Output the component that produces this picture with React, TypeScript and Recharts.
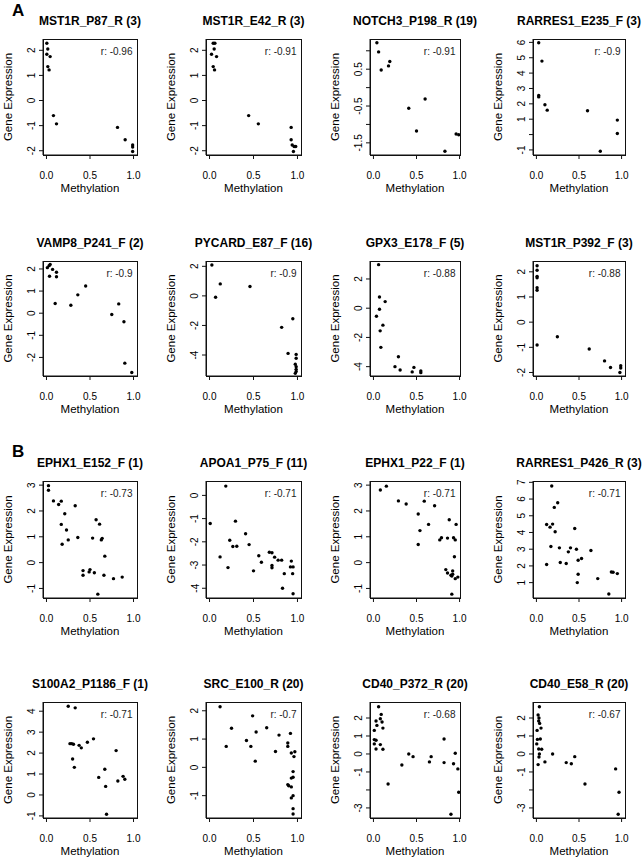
import React from "react";
import { ScatterChart, Scatter, XAxis, YAxis, Label } from "recharts";

const FONT = '"Liberation Sans", Arial, Helvetica, sans-serif';

// ---- data (methylation, gene expression) ----
const mst1rP87 = [[0.004, 2.28], [0.015, 2.05], [0.004, 1.84], [0.042, 1.75], [0.015, 1.35], [0.03, 1.22], [0.08, -0.6], [0.115, -0.93], [0.816, -1.07], [0.904, -1.56], [0.99, -1.77], [0.99, -1.85], [0.99, -2.03]];
const mst1rE42 = [[0.042, 2.28], [0.061, 2.28], [0.053, 2.05], [0.023, 1.84], [0.08, 1.75], [0.042, 1.35], [0.057, 1.22], [0.445, -0.6], [0.555, -0.93], [0.928, -1.07], [0.928, -1.56], [0.94, -1.77], [0.962, -1.83], [0.98, -1.83], [0.954, -2.03]];
const notch3P198 = [[0.04, 1.22], [0.06, 0.97], [0.09, 0.48], [0.175, 0.59], [0.19, 0.71], [0.41, -0.56], [0.6, -0.31], [0.5, -1.18], [0.83, -1.73], [0.96, -1.26], [0.99, -1.28]];
const rarres1E235 = [[0.027, 5.98], [0.065, 4.78], [0.027, 2.55], [0.027, 2.45], [0.1, 1.94], [0.127, 1.59], [0.6, 1.55], [0.95, 0.94], [0.95, 0.07], [0.75, -1.09]];
const vamp8P241 = [[0.01, 2.06], [0.03, 2.15], [0.042, 2.2], [0.07, 1.98], [0.035, 1.67], [0.115, 1.85], [0.115, 1.65], [0.1, 0.44], [0.28, 0.36], [0.36, 0.83], [0.45, 1.23], [0.75, -0.06], [0.83, 0.42], [0.89, -0.39], [0.9, -2.26], [0.98, -2.68]];
const pycardE87 = [[0.027, 2.09], [0.069, -0.09], [0.122, 0.81], [0.46, 0.63], [0.82, -2.13], [0.947, -1.55], [0.893, -3.89], [0.985, -3.96], [0.985, -4.22], [0.975, -4.63], [0.985, -4.79], [0.985, -4.97], [0.985, -5.12], [0.975, -5.24]];
const gpx3E178 = [[0.06, 2.98], [0.07, 0.77], [0.07, -0.07], [0.136, 0.45], [0.035, -0.55], [0.11, -1.16], [0.078, -1.55], [0.086, -2.68], [0.29, -3.32], [0.25, -4.0], [0.31, -4.23], [0.47, -4.05], [0.45, -4.36], [0.55, -4.3], [0.55, -4.41]];
const mst1rP392 = [[0.008, 2.24], [0.008, 2.06], [0.008, 1.82], [0.008, 1.76], [0.008, 1.37], [0.008, 1.27], [0.008, -0.91], [0.246, -0.58], [0.62, -1.07], [0.8, -1.54], [0.87, -1.8], [0.99, -1.73], [0.99, -1.82], [0.98, -2.0]];
const ephx1E152 = [[0.023, 2.98], [0.023, 2.8], [0.08, 2.39], [0.14, 2.25], [0.17, 2.38], [0.21, 1.89], [0.17, 1.48], [0.23, 1.26], [0.18, 0.71], [0.25, 0.88], [0.33, 2.2], [0.36, 0.97], [0.42, -0.31], [0.42, -0.49], [0.49, -0.36], [0.5, -0.27], [0.55, -0.39], [0.53, 0.95], [0.57, 1.66], [0.61, 1.49], [0.63, 0.88], [0.64, 0.94], [0.67, 0.25], [0.66, -0.49], [0.59, -1.22], [0.77, -0.62], [0.87, -0.56]];
const apoa1P75 = [[0.008, -1.21], [0.185, 0.4], [0.12, -2.65], [0.21, -3.11], [0.23, -1.93], [0.265, -2.2], [0.31, -2.19], [0.295, -1.11], [0.41, -1.65], [0.45, -2.12], [0.5, -3.25], [0.56, -2.6], [0.59, -2.88], [0.68, -2.45], [0.71, -2.47], [0.71, -3.02], [0.71, -3.12], [0.74, -2.66], [0.78, -2.79], [0.82, -2.79], [0.85, -3.37], [0.83, -4.0], [0.93, -2.83], [0.92, -3.08], [0.95, -3.08], [0.945, -3.37], [0.95, -4.24]];
const ephx1P22 = [[0.08, 2.81], [0.15, 2.96], [0.29, 2.39], [0.38, 2.27], [0.52, 1.88], [0.59, 2.38], [0.71, 2.2], [0.54, 1.24], [0.52, 0.7], [0.64, 1.48], [0.77, 0.88], [0.79, 0.96], [0.86, 0.95], [0.88, 1.66], [0.93, 0.96], [0.95, 0.88], [0.96, 1.48], [0.94, 0.23], [0.84, -0.27], [0.86, -0.4], [0.9, -0.49], [0.92, -0.32], [0.92, -0.45], [0.91, -0.52], [0.95, -0.62], [0.98, -0.56], [0.91, -1.22]];
const rarres1P426 = [[0.18, 6.78], [0.25, 5.78], [0.21, 5.5], [0.12, 4.48], [0.19, 4.5], [0.16, 4.32], [0.22, 4.04], [0.45, 4.24], [0.17, 3.16], [0.27, 3.08], [0.4, 3.08], [0.375, 2.84], [0.47, 3.0], [0.64, 2.92], [0.12, 2.08], [0.28, 2.2], [0.35, 2.14], [0.49, 2.34], [0.53, 2.44], [0.49, 1.5], [0.48, 1.0], [0.72, 1.24], [0.88, 1.64], [0.9, 1.62], [0.95, 1.54], [0.85, 0.32]];
const s100a2P1186 = [[0.25, 4.24], [0.33, 4.16], [0.27, 2.45], [0.29, 2.45], [0.31, 2.42], [0.375, 2.37], [0.4, 2.25], [0.47, 2.52], [0.54, 2.68], [0.3, 1.72], [0.32, 1.32], [0.6, 0.84], [0.67, 1.23], [0.68, 0.41], [0.8, 2.12], [0.82, 0.67], [0.88, 0.89], [0.9, 0.75], [0.69, -0.92]];
const srcE100 = [[0.12, 2.14], [0.19, 0.74], [0.25, 1.38], [0.42, 0.95], [0.47, 0.74], [0.49, 1.82], [0.53, 1.25], [0.52, 0.22], [0.65, 1.4], [0.75, 0.56], [0.79, 1.14], [0.89, 0.86], [0.89, 0.74], [0.92, 1.2], [0.93, 0.51], [0.96, 0.38], [0.97, 0.55], [0.95, -0.15], [0.93, -0.38], [0.95, -0.35], [0.89, -0.61], [0.9, -0.65], [0.93, -0.69], [0.93, -1.08], [0.95, -1.0], [0.95, -1.46], [0.95, -1.65]];
const cd40P372 = [[0.06, 2.63], [0.03, 1.83], [0.09, 2.2], [0.08, 1.96], [0.1, 1.78], [0.04, 1.59], [0.11, 1.44], [0.01, 1.31], [0.01, 0.8], [0.03, 0.76], [0.01, 0.56], [0.08, 0.52], [0.03, 0.28], [0.11, 0.26], [0.17, -1.67], [0.33, -0.61], [0.41, 0.0], [0.46, -0.15], [0.65, -0.44], [0.67, -0.15], [0.82, 0.83], [0.82, -0.48], [0.93, -0.54], [0.95, 0.04], [0.98, -0.83], [0.99, -2.13], [0.9, -3.35]];
const cd40E58 = [[0.035, 2.63], [0.02, 2.17], [0.03, 2.0], [0.027, 1.83], [0.038, 1.7], [0.008, 1.31], [0.054, 1.44], [0.012, 0.81], [0.046, 0.83], [0.004, 0.56], [0.027, 0.28], [0.062, 0.26], [0.035, 0.0], [0.03, -0.17], [0.02, -0.59], [0.1, -0.44], [0.19, 0.0], [0.35, -0.48], [0.41, -0.54], [0.45, -0.15], [0.57, -1.67], [0.93, -0.83], [0.97, -2.13], [0.96, -3.35]];

const series = [
  mst1rP87, mst1rE42, notch3P198, rarres1E235,
  vamp8P241, pycardE87, gpx3E178, mst1rP392,
  ephx1E152, apoa1P75, ephx1P22, rarres1P426,
  s100a2P1186, srcE100, cd40P372, cd40E58,
];

const titles = [
  "MST1R_P87_R (3)", "MST1R_E42_R (3)", "NOTCH3_P198_R (19)", "RARRES1_E235_F (3)",
  "VAMP8_P241_F (2)", "PYCARD_E87_F (16)", "GPX3_E178_F (5)", "MST1R_P392_F (3)",
  "EPHX1_E152_F (1)", "APOA1_P75_F (11)", "EPHX1_P22_F (1)", "RARRES1_P426_R (3)",
  "S100A2_P1186_F (1)", "SRC_E100_R (20)", "CD40_P372_R (20)", "CD40_E58_R (20)",
];

const rValues = [
  "-0.96", "-0.91", "-0.91", "-0.9",
  "-0.9", "-0.9", "-0.88", "-0.88",
  "-0.73", "-0.71", "-0.71", "-0.71",
  "-0.71", "-0.7", "-0.68", "-0.67",
];

const yTicks = [
  [-2, -1, 0, 1, 2], [-2, -1, 0, 1, 2], [-1.5, -1, -0.5, 0, 0.5, 1], [-1, 0, 1, 2, 3, 4, 5, 6],
  [-2, -1, 0, 1, 2], [-4, -2, 0, 2], [-4, -2, 0, 2], [-2, -1, 0, 1, 2],
  [-1, 0, 1, 2, 3], [-4, -3, -2, -1, 0], [-1, 0, 1, 2, 3], [1, 2, 3, 4, 5, 6, 7],
  [-1, 0, 1, 2, 3, 4], [-1, 0, 1, 2], [-3, -2, -1, 0, 1, 2], [-3, -2, -1, 0, 1, 2],
];

// R drops some labels that would overlap
const yLabelsShown = [
  [-2, -1, 0, 1, 2], [-2, -1, 0, 1, 2], [-1.5, -0.5, 0.5], [-1, 1, 2, 3, 4, 5, 6],
  [-2, -1, 0, 1, 2], [-4, -2, 0, 2], [-4, -2, 0, 2], [-2, -1, 0, 1, 2],
  [-1, 0, 1, 2, 3], [-4, -3, -2, -1, 0], [-1, 0, 1, 2, 3], [1, 2, 3, 4, 5, 6, 7],
  [-1, 0, 1, 2, 3, 4], [-1, 0, 1, 2], [-3, -1, 0, 1, 2], [-3, -1, 0, 1, 2],
];

const yDomains = [
  [-2.17, 2.45], [-2.17, 2.45], [-1.83, 1.32], [-1.33, 6.22],
  [-2.84, 2.36], [-5.42, 2.36], [-4.64, 3.23], [-2.14, 2.43],
  [-1.37, 3.16], [-4.42, 0.62], [-1.37, 3.16], [0.08, 7.08],
  [-1.1, 4.44], [-1.79, 2.31], [-3.56, 2.89], [-3.56, 2.89],
];

const xTicks = [0, 0.5, 1];

// page layout: plot box edges per column / row
const COL_W = 161;
const colBox = [[43, 137], [206, 301], [370, 460], [533, 625]];
const rowBox = [[39, 155], [261, 376], [481, 598], [702, 818]];
const TOP = 30;
const XH = 45;
const INK = "#111";

const Panel = ({ i }: { i: number }) => {
  const r = Math.floor(i / 4);
  const c = i % 4;
  const colStart = c * COL_W;
  const yw = colBox[c][0] - colStart;
  const bw = colBox[c][1] - colBox[c][0];
  const bh = rowBox[r][1] - rowBox[r][0];
  const xDomain = c === 2 ? [-0.04, 1.005] : [-0.04, 1.04];
  const yDomain = yDomains[i];
  const shown = yLabelsShown[i];
  const data = series[i].map(([x, y]) => ({ x, y }));
  const B = TOP + bh;

  const YTick = ({ y, payload }: any) =>
    shown.includes(payload.value) ? (
      <text x={yw - 11} y={y} transform={`rotate(-90 ${yw - 11} ${y})`} textAnchor="middle" dominantBaseline="central" fontSize={10} fontFamily={FONT} fill="#000">
        {String(payload.value)}
      </text>
    ) : (
      <g />
    );

  const Frame = () => (
    <g fontFamily={FONT}>
      <text x={yw + bw / 2} y={TOP - 18} textAnchor="middle" dominantBaseline="central" fontSize={12} fontWeight="bold" fill="#000">
        {titles[i]}
      </text>
      <text x={yw + bw - 4.5} y={TOP + 12.7} textAnchor="end" dominantBaseline="central" fontSize={10} fill="#222">
        {`r: ${rValues[i]}`}
      </text>
      <text x={yw + bw / 2} y={B + 33} textAnchor="middle" dominantBaseline="central" fontSize={11.5} fill="#000">
        Methylation
      </text>
    </g>
  );

  return (
    <div style={{ position: "absolute", left: colStart, top: rowBox[r][0] - TOP, width: COL_W, height: TOP + bh + XH }}>
      <ScatterChart width={COL_W} height={TOP + bh + XH} margin={{ top: TOP, right: COL_W - yw - bw, left: 0, bottom: 0 }}>
        <XAxis
          type="number"
          dataKey="x"
          domain={xDomain}
          ticks={xTicks}
          interval={0}
          allowDataOverflow
          height={XH}
          stroke={INK}
          tickSize={4}
          tickMargin={13}
          tick={{ fontSize: 10, fontFamily: FONT, fill: "#000" }}
          tickFormatter={(v: number) => v.toFixed(1)}
        >
          <Label content={() => <Frame />} />
        </XAxis>
        <YAxis
          type="number"
          dataKey="y"
          domain={yDomain}
          ticks={yTicks[i]}
          interval={0}
          allowDataOverflow
          width={yw}
          stroke={INK}
          tickSize={4}
          tick={<YTick />}
        >
          <Label
            content={() => (
              <text
                x={yw - 35}
                y={TOP + bh / 2}
                transform={`rotate(-90 ${yw - 35} ${TOP + bh / 2})`}
                textAnchor="middle"
                dominantBaseline="central"
                fontSize={11.5}
                fontFamily={FONT}
                fill="#000"
              >
                Gene Expression
              </text>
            )}
          />
        </YAxis>
        <Scatter
          data={data}
          isAnimationActive={false}
          fill="#000"
          shape={(p: any) => <circle cx={p.cx} cy={p.cy} r={1.7} fill="#000" />}
        />
      </ScatterChart>
    </div>
  );
};

export default function App() {
  return (
    <div style={{ position: "absolute", left: 0, top: 0, width: 644, height: 861, background: "#fff" }}>
      {series.map((_, i) => (
        <Panel key={i} i={i} />
      ))}
      {/* plot frames, laid over all charts */}
      {series.map((_, i) => {
        const r = Math.floor(i / 4);
        const c = i % 4;
        return (
          <div
            key={`frame-${i}`}
            style={{
              position: "absolute",
              left: colBox[c][0],
              top: rowBox[r][0],
              width: colBox[c][1] - colBox[c][0] + 1,
              height: rowBox[r][1] - rowBox[r][0] + 1,
              boxSizing: "border-box",
              border: `1px solid ${INK}`,
              pointerEvents: "none",
            }}
          />
        );
      })}
      <div style={{ position: "absolute", left: 12, top: 1, fontFamily: FONT, fontWeight: "bold", fontSize: 17, lineHeight: "20px" }}>A</div>
      <div style={{ position: "absolute", left: 12, top: 442, fontFamily: FONT, fontWeight: "bold", fontSize: 17, lineHeight: "20px" }}>B</div>
    </div>
  );
}
